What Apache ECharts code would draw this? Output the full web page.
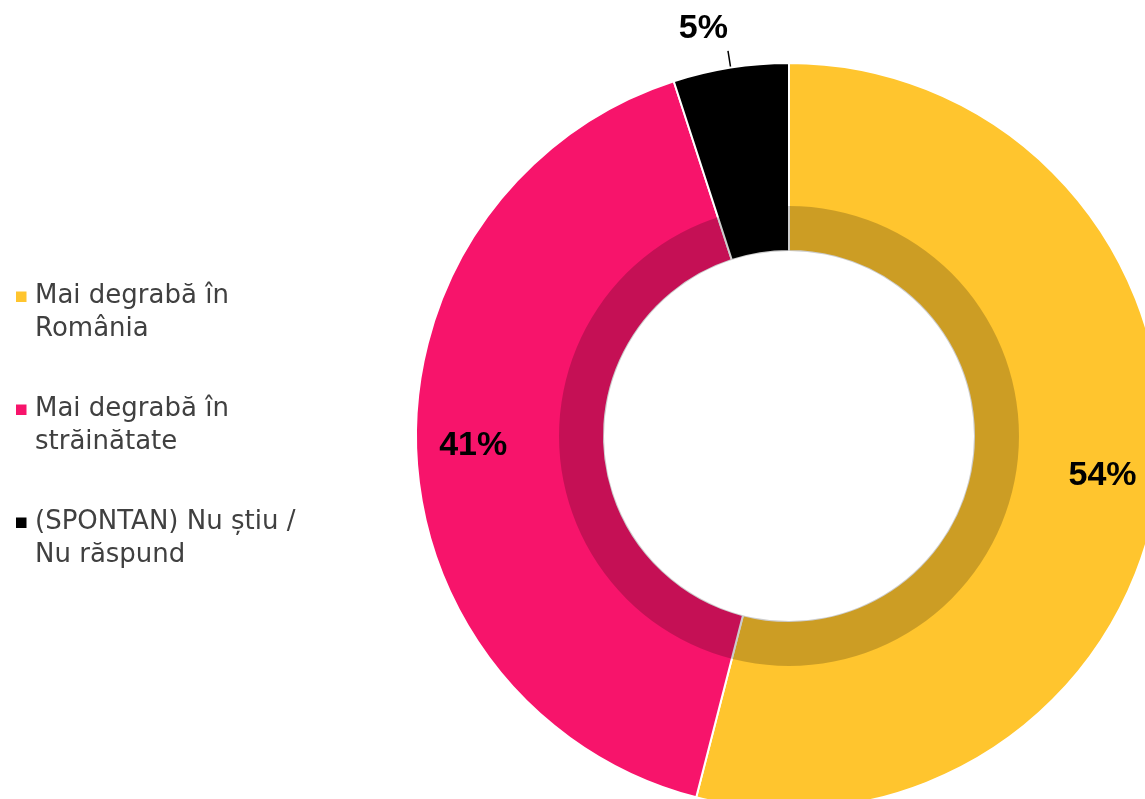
<!DOCTYPE html>
<html>
<head>
<meta charset="utf-8">
<script src="https://cdn.jsdelivr.net/npm/echarts@6/dist/echarts.min.js"></script>
<style>
html,body{margin:0;padding:0;background:#fff;}
#chart{width:1145px;height:799px;}
</style>
</head>
<body>
<div id="chart"></div>
<script>
const categories = ['Mai degrabă în România', 'Mai degrabă în străinătate', '(SPONTAN) Nu știu / Nu răspund'];
const values = [54, 41, 5];
const colors = ['#FFC52E', '#F7146B', '#000000'];

function wrapWords(text, maxChars) {
  const words = text.split(' ');
  const lines = [];
  let cur = '';
  words.forEach(w => {
    if (cur === '') cur = w;
    else if ((cur + ' ' + w).length <= maxChars) cur += ' ' + w;
    else { lines.push(cur); cur = w; }
  });
  if (cur) lines.push(cur);
  return lines.join('\n');
}

const chart = echarts.init(document.getElementById('chart'), null, {renderer: 'canvas'});
const center = [789, 436];

const mainData = categories.map((name, i) => ({
  name: name,
  value: values[i],
  itemStyle: {color: colors[i]},
  label: {show: i === 2},
  labelLine: {show: i === 2}
}));

const labelData = categories.map((name, i) => ({
  name: name,
  value: values[i],
  label: {show: i !== 2}
}));

const option = {
  animation: false,
  backgroundColor: '#ffffff',
  legend: {
    orient: 'vertical',
    left: 16,
    top: 280,
    padding: 0,
    itemGap: 47,
    itemWidth: 14,
    itemHeight: 66,
    icon: 'path://M0,11.5h10.5v10.5h-10.5z M0,0L0,0 M14,66L14,66',
    itemStyle: {borderWidth: 0},
    selectedMode: false,
    data: categories,
    formatter: name => wrapWords(name, 19),
    textStyle: {
      fontFamily: 'DejaVu Sans',
      fontSize: 26,
      lineHeight: 33,
      color: '#404040'
    }
  },
  series: [
    {
      type: 'pie',
      name: 'main',
      center: center,
      radius: [185, 373],
      startAngle: 90,
      clockwise: true,
      silent: true,
      avoidLabelOverlap: false,
      itemStyle: {borderColor: '#ffffff', borderWidth: 2},
      label: {
        position: 'outside',
        formatter: '{v|{c}%}\n{s| }',
        distanceToLabelLine: 0,
        rich: {
          v: {
            fontFamily: 'Liberation Sans',
            fontWeight: 'bold',
            fontSize: 34,
            lineHeight: 36,
            color: '#000000',
            align: 'right'
          },
          s: {
            fontSize: 10,
            height: 44,
            lineHeight: 44
          }
        }
      },
      labelLine: {
        length: 17,
        length2: 0,
        lineStyle: {color: '#000000', width: 1.5}
      },
      emphasis: {disabled: true},
      data: mainData,
      z: 2
    },
    {
      type: 'pie',
      name: 'shade',
      center: center,
      radius: [185, 230],
      silent: true,
      label: {show: false},
      labelLine: {show: false},
      itemStyle: {color: 'rgba(0,0,0,0.2)', borderWidth: 0},
      emphasis: {disabled: true},
      data: [{name: '', value: 1}],
      z: 3
    },
    {
      type: 'pie',
      name: 'labels',
      center: center,
      radius: [0, 626],
      startAngle: 90,
      clockwise: true,
      silent: true,
      avoidLabelOverlap: false,
      itemStyle: {color: 'rgba(0,0,0,0)', borderWidth: 0},
      label: {
        position: 'inside',
        formatter: '{c}%',
        fontFamily: 'Liberation Sans',
        fontWeight: 'bold',
        fontSize: 34,
        color: '#000000'
      },
      labelLine: {show: false},
      emphasis: {disabled: true},
      data: labelData,
      z: 4
    }
  ]
};
chart.setOption(option);
</script>
</body>
</html>
